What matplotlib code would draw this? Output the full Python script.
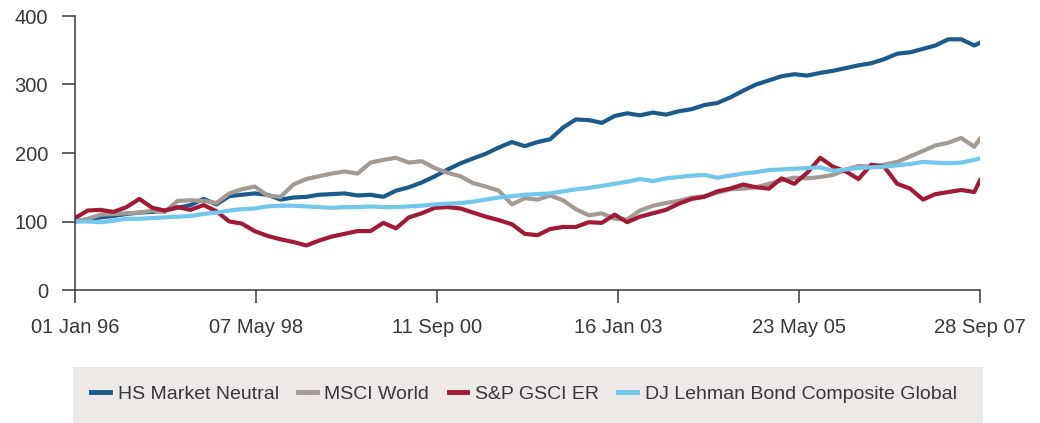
import matplotlib
matplotlib.use("Agg")
import matplotlib.pyplot as plt
import matplotlib.dates as mdates
from matplotlib.patches import Rectangle
import pandas as pd

# Index levels (rebased to 100 on 01 Jan 96), sampled every two months plus the last day
DATES = list(pd.date_range("1996-01-01", "2007-09-01", freq="2MS")) + [pd.Timestamp("2007-09-28")]

HS_MARKET_NEUTRAL = [
    100, 103, 106, 108, 111, 113, 114, 116, 120, 124,
    133, 125, 137, 139, 141, 139, 132, 135, 136, 139,
    140, 141, 138, 139, 136, 145, 150, 157, 166, 176,
    185, 192, 199, 208, 216, 210, 216, 220, 237, 249,
    248, 244, 254, 258, 255, 259, 256, 261, 264, 270,
    273, 281, 291, 300, 306, 312, 315, 313, 317, 320,
    324, 328, 331, 337, 345, 347, 352, 357, 366, 366,
    357, 361,
]
MSCI_WORLD = [
    100, 104, 110, 111, 112, 113, 116, 114, 130, 131,
    130, 127, 141, 147, 151, 138, 136, 154, 162, 166,
    170, 173, 170, 186, 190, 193, 186, 188, 178, 171,
    166, 156, 151, 145, 125, 134, 132, 138, 131, 118,
    109, 112, 104, 103, 116, 123, 127, 130, 135, 137,
    142, 147, 148, 150, 155, 160, 164, 163, 165, 168,
    176, 181, 180, 183, 187, 195, 203, 211, 215, 222,
    209, 221,
]
SP_GSCI_ER = [
    105, 116, 117, 114, 121, 133, 120, 116, 121, 117,
    124, 115, 100, 97, 86, 79, 74, 70, 65, 72,
    78, 82, 86, 86, 98, 90, 106, 112, 120, 121,
    119, 113, 107, 102, 96, 82, 80, 89, 92, 92,
    99, 98, 110, 99, 107, 112, 117, 126, 133, 136,
    144, 148, 154, 150, 148, 163, 155, 171, 193, 180,
    173, 162, 183, 180, 155, 148, 132, 140, 143, 146,
    143, 160,
]
DJ_LEHMAN_BOND = [
    100, 100, 99, 101, 104, 104, 105, 106, 107, 108,
    111, 113, 116, 118, 119, 122, 123, 123, 122, 121,
    120, 121, 121, 122, 121, 121, 122, 123, 125, 126,
    127, 129, 132, 135, 137, 139, 140, 141, 144, 147,
    149, 152, 155, 158, 162, 159, 163, 165, 167, 168,
    164, 167, 170, 172, 175, 176, 177, 178, 179, 174,
    176, 178, 179, 180, 182, 184, 187, 186, 185, 186,
    190, 192,
]

SERIES = [
    ("HS Market Neutral", HS_MARKET_NEUTRAL, "#1D5A8C"),
    ("MSCI World", MSCI_WORLD, "#A39A93"),
    ("S&P GSCI ER", SP_GSCI_ER, "#A11A35"),
    ("DJ Lehman Bond Composite Global", DJ_LEHMAN_BOND, "#71C7EC"),
]
TICK_DATES = ["1996-01-01", "1998-05-07", "2000-09-11", "2003-01-16", "2005-05-23", "2007-09-28"]
Y_TICKS = [0, 100, 200, 300, 400]

INK = "#383838"
PANEL = "#ECE9E6"
FS = 14.5

plt.rcParams.update({"font.family": ["Liberation Sans", "DejaVu Sans"], "font.size": FS})

fig = plt.figure(figsize=(10.4, 4.23), dpi=100)
ax = fig.add_axes([75 / 1040, 133 / 423, 905 / 1040, 274 / 423])

for name, values, color in SERIES:
    ax.plot(DATES, values, color=color, linewidth=3.0, label=name, solid_joinstyle="round")

ax.set_xlim(pd.Timestamp(TICK_DATES[0]), pd.Timestamp(TICK_DATES[-1]))
ax.set_ylim(0, 400)
ax.set_yticks(Y_TICKS)
ax.set_xticks([pd.Timestamp(d) for d in TICK_DATES])
ax.xaxis.set_major_formatter(mdates.DateFormatter("%d %b %y"))

for side in ("top", "right"):
    ax.spines[side].set_visible(False)
for side in ("left", "bottom"):
    ax.spines[side].set_color(INK)
    ax.spines[side].set_linewidth(1.1)
ax.tick_params(axis="both", direction="out", length=9.5, width=1.1, color=INK,
               labelcolor=INK, labelsize=FS)
ax.tick_params(axis="y", pad=10)
ax.tick_params(axis="x", pad=11)

# grey panel behind the legend, spanning the plot width
fig.patches.append(Rectangle((73 / 1040, 0), 910 / 1040, 56 / 423, transform=fig.transFigure,
                             facecolor=PANEL, edgecolor="none", zorder=0))
handles, labels = ax.get_legend_handles_labels()
leg = fig.legend(handles, labels, loc="center", bbox_to_anchor=(524 / 1040, 29 / 423),
                 ncol=4, frameon=False, fontsize=14, handlelength=0.95,
                 handletextpad=0.4, columnspacing=1.0)
for line in leg.get_lines():
    line.set_linewidth(3.5)
for text in leg.get_texts():
    text.set_color(INK)

fig.savefig("out.png", dpi=100)
